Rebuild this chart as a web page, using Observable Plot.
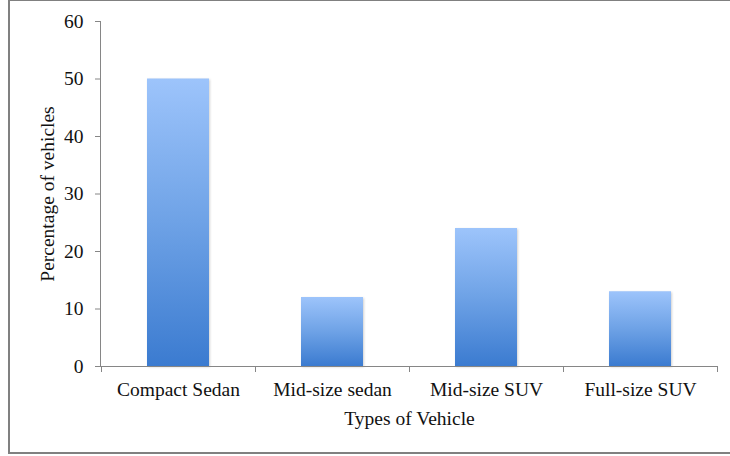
<!DOCTYPE html>
<html>
<head>
<meta charset="utf-8">
<script src="https://cdn.jsdelivr.net/npm/d3@7"></script>
<script src="https://cdn.jsdelivr.net/npm/@observablehq/plot@0.6"></script>
<style>
  html, body { margin: 0; padding: 0; background: #fff; }
  #wrap { position: relative; width: 730px; height: 456px; overflow: hidden; background: #fff; }
  #border { position: absolute; left: 8px; top: -1px; width: 800px; height: 455px; box-sizing: border-box; border: 2px solid #808080; }
  #chart { position: absolute; left: 0; top: 0; }
</style>
</head>
<body>
<div id="wrap"><div id="border"></div><div id="chart"></div></div>
<script>
const categories = ["Compact Sedan", "Mid-size sedan", "Mid-size SUV", "Full-size SUV"];
const percentages = [50, 12, 24, 13];
const yTicks = [0, 10, 20, 30, 40, 50, 60];
const xTitle = "Types of Vehicle";
const yTitle = "Percentage of vehicles";

const data = categories.map((c, i) => ({type: c, pct: percentages[i]}));
const font = "'Liberation Serif', 'Times New Roman', serif";
const axisGray = "#868686";

const plot = Plot.plot({
  width: 730,
  height: 456,
  marginLeft: 100,
  marginRight: 12,
  marginTop: 21,
  marginBottom: 90,
  style: {fontFamily: font, fontSize: "19.5px", color: "#111", background: "transparent", overflow: "visible"},
  x: {domain: categories, paddingInner: 0.6, paddingOuter: 0.3, label: null},
  y: {domain: [0, 60], label: null},
  marks: [
    Plot.barY(data, {x: "type", y: "pct", fill: "url(#barGrad)", className: "bars"}),
    Plot.ruleY([0], {stroke: axisGray}),
    Plot.axisY({ticks: yTicks, tickSize: 5, tickPadding: 12, stroke: axisGray, label: null}),
    Plot.axisX({tickSize: 0, tickPadding: 16, label: null}),
    Plot.text([yTitle], {text: d => d, frameAnchor: "left", textAnchor: "middle", lineAnchor: "middle", rotate: -90, dx: -53, fontSize: 19.5, fill: "#111"}),
    Plot.text([xTitle], {text: d => d, frameAnchor: "bottom", textAnchor: "middle", lineAnchor: "middle", dy: 52, fontSize: 19.5, fill: "#111"})
  ]
});

const svg = d3.select(plot);
const defs = svg.insert("defs", ":first-child");
const grad = defs.append("linearGradient")
  .attr("id", "barGrad").attr("x1", 0).attr("y1", 0).attr("x2", 0).attr("y2", 1);
grad.append("stop").attr("offset", "0%").attr("stop-color", "#9dc4fb");
grad.append("stop").attr("offset", "50%").attr("stop-color", "#6ea2e6");
grad.append("stop").attr("offset", "100%").attr("stop-color", "#3b7bd0");

svg.selectAll("g.bars").style("filter", "drop-shadow(1px 1px 1px rgba(0,0,0,0.18))");

const xs = plot.scale("x");
const ys = plot.scale("y");
const [rx0] = xs.range;
const yTop = ys.apply(yTicks[yTicks.length - 1]);
const yBase = ys.apply(0);
const g = svg.append("g").attr("stroke", axisGray).attr("stroke-width", 1);
g.append("line").attr("x1", rx0 + 0.5).attr("x2", rx0 + 0.5).attr("y1", yTop).attr("y2", yBase);
const half = (xs.step - xs.bandwidth) / 2;
const bounds = categories.map(c => xs.apply(c) - half).concat([xs.apply(categories[categories.length - 1]) + xs.bandwidth + half]);
bounds.forEach(bx => {
  g.append("line").attr("x1", bx + 0.5).attr("x2", bx + 0.5).attr("y1", yBase).attr("y2", yBase + 6);
});

document.getElementById("chart").appendChild(plot);
</script>
</body>
</html>
